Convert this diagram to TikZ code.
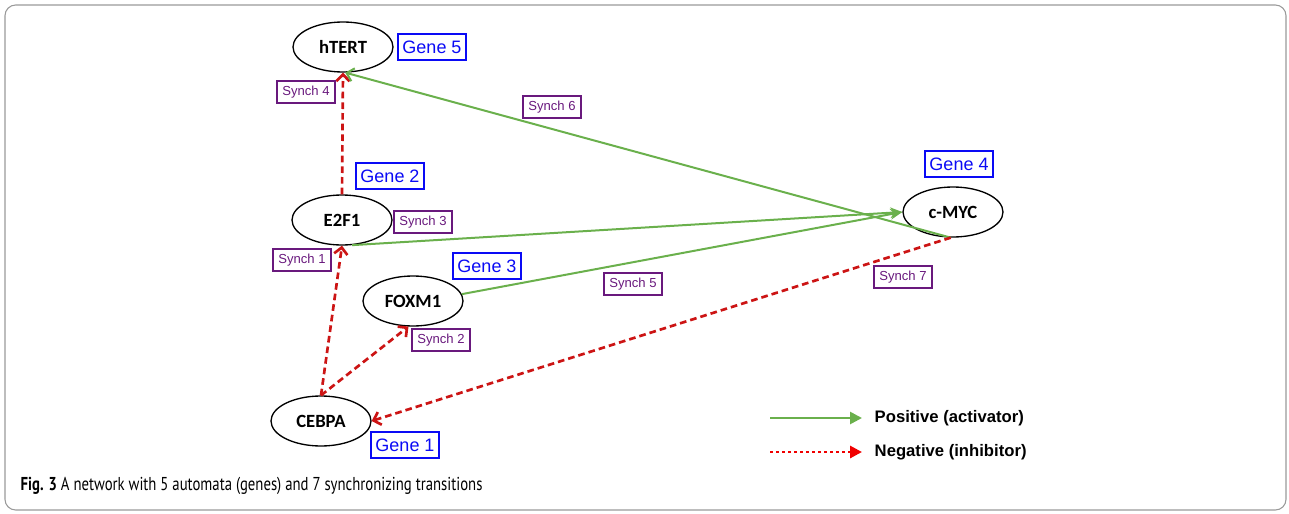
\documentclass[tikz,border=0pt]{standalone}
\usepackage{fontspec}
\setmainfont{Liberation Sans}
\newfontfamily\genefont{Carlito}
\newfontfamily\capfont{PT Sans}
\usepackage{graphicx}
\usetikzlibrary{arrows.meta, shapes.geometric}

\definecolor{posgreen}{RGB}{106,176,76}
\definecolor{negred}{RGB}{204,20,20}
\definecolor{legred}{RGB}{240,0,0}
\definecolor{synchpurple}{RGB}{105,25,125}
\definecolor{geneblue}{RGB}{10,10,245}

\begin{document}
\begin{tikzpicture}[x=0.75pt, y=-0.75pt,
    gene/.style={ellipse, draw, line width=1pt, minimum width=75pt, minimum height=37.5pt,
      inner sep=0pt, font=\genefont\bfseries\fontsize{14}{16}\selectfont},
    genetag/.style={draw=geneblue, text=geneblue, line width=1.3pt, inner xsep=3.5pt,
      minimum height=19pt, font=\fontsize{13.5}{15}\selectfont},
    synch/.style={draw=synchpurple, text=synchpurple, line width=1.5pt, inner xsep=4pt,
      minimum height=14pt, font=\fontsize{9.8}{11}\selectfont},
    activ/.style={draw=posgreen, line width=1.5pt},
    inhib/.style={draw=negred, line width=2pt, dash pattern=on 5pt off 3pt},
    legend/.style={anchor=west, font=\bfseries\fontsize{12.5}{14}\selectfont}]
    \useasboundingbox (0,0) rectangle (1289,514);
    \draw[gray!80, line width=0.8pt, rounded corners=8pt] (5,5) rectangle (1286,510);

    % genes
    \node[gene] (htert) at (343,47) {hTERT};
    \node[gene] (e2f1) at (342,220) {E2F1};
    \node[gene] (foxm1) at (413,301) {FOXM1};
    \node[gene] (cebpa) at (321,421) {CEBPA};
    \node[gene] (cmyc) at (953,212) {c-MYC};

    \node[genetag] (g5) at (432,47) {Gene 5};
    \node[genetag] (g2) at (390,176) {Gene 2};
    \node[genetag] (g3) at (487,266) {Gene 3};
    \node[genetag] (g4) at (959,164) {Gene 4};
    \node[genetag] (g1) at (405,445) {Gene 1};

    % transitions
    \draw[inhib, -{Straight Barb[length=5pt]}] (e2f1.north) -- (htert.south);
    \draw[activ, -{Straight Barb[length=5pt]}] (cmyc.-95) -- (htert.-85);
    \draw[activ, -{Stealth[length=9pt,width=8pt]}] (e2f1.-68) -- (cmyc.west);
    \draw[activ, -{Stealth[length=9pt,width=8pt]}] (foxm1.8) -- (cmyc.west);
    \draw[inhib, -{Straight Barb[length=5pt]}] (cebpa.north) -- (e2f1.south);
    \draw[inhib, -{Straight Barb[length=5pt]}] (cebpa.north) -- (foxm1.-100);
    \draw[inhib, -{Straight Barb[length=5pt]}] (cmyc.-95) -- (cebpa.east);

    \node[synch] (s4) at (306,92) {Synch 4};
    \node[synch] (s6) at (552,107) {Synch 6};
    \node[synch] (s3) at (423,222) {Synch 3};
    \node[synch] (s1) at (302,260) {Synch 1};
    \node[synch] (s5) at (633,284) {Synch 5};
    \node[synch] (s7) at (903,277) {Synch 7};
    \node[synch] (s2) at (441,340) {Synch 2};

    % legend
    \coordinate (p1) at (770,418);
    \coordinate (p2) at (862,418);
    \coordinate (n1) at (770,452);
    \coordinate (n2) at (862,452);
    \draw[activ, line width=2pt, -{Triangle[length=9pt,width=9pt]}] (p1) -- (p2);
    \draw[legred, line width=2.2pt, dash pattern=on 2.5pt off 2pt, -{Triangle[length=9pt,width=9pt]}] (n1) -- (n2);
    \node[legend] (pl) at (870,418) {Positive (activator)};
    \node[legend] (nl) at (870,452) {Negative (inhibitor)};

    \node[anchor=west, font=\capfont\fontsize{14}{16}\selectfont] (cap) at (16,486)
      {\scalebox{0.79}[1]{\textbf{Fig. 3} A network with 5 automata (genes) and 7 synchronizing transitions}};
\end{tikzpicture}
\end{document}
